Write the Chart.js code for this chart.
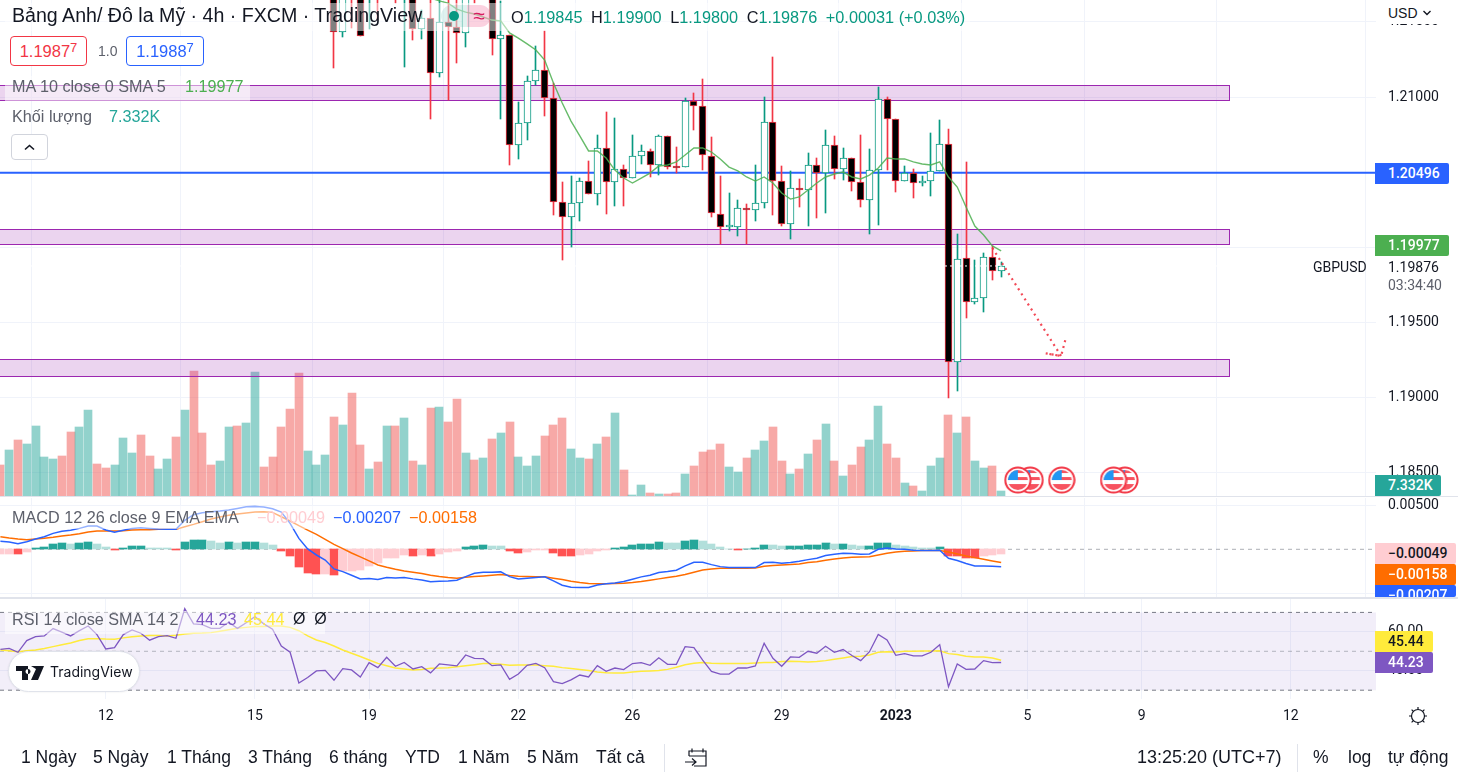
<!DOCTYPE html>
<html lang="vi">
<head>
<meta charset="utf-8">
<title>GBPUSD 4h</title>
<script src="https://cdn.jsdelivr.net/npm/chart.js@4/dist/chart.umd.js"></script>
<style>
html, body { margin: 0; padding: 0; background: #fff; }
body { width: 1458px; height: 777px; overflow: hidden; position: relative; font-family: "Liberation Sans", Arial, sans-serif; color: #131722; }
canvas { position: absolute; left: 0; }
.abs { position: absolute; white-space: nowrap; z-index: 5; }
.row { position: absolute; background: rgba(255,255,255,.5); z-index: 4; }
.leg { font-size: 16.2px; color: #5d606b; }
.up { color: #089981; }
.tag { position: absolute; z-index: 6; left: 1375px; height: 21px; line-height: 21px; border-radius: 0 2px 2px 0; font: 500 14px/21px Roboto, sans-serif; color: #fff; padding-left: 13px; box-sizing: border-box; overflow: hidden; }
.axis { font: 14px/16px Roboto, sans-serif; color: #131722; }
.sep { position: absolute; left: 0; width: 1458px; background: #e0e3eb; z-index: 3; }
.tool { position: absolute; top: 747px; font-size: 17.5px; line-height: 21px; white-space: nowrap; z-index: 5; color: #131722; }
.vbar { position: absolute; width: 1px; top: 744px; height: 28px; background: #e0e3eb; }
.box { position: absolute; top: 36px; height: 30px; box-sizing: border-box; border-radius: 4px; border: 1px solid; font-size: 16.5px; line-height: 29px; text-align: center; z-index: 5; background: #fff; }
.box sup { font-size: 13px; line-height: 0; vertical-align: 5px; }
</style>
</head>
<body>
<canvas id="priceChart" width="1458" height="496" style="top:0"></canvas>
<canvas id="macdChart" width="1458" height="99" style="top:498px"></canvas>
<canvas id="rsiChart" width="1458" height="134" style="top:599px"></canvas>

<div class="sep" style="top:496px;height:1px"></div>
<div class="sep" style="top:597px;height:2px"></div>

<!-- legend block -->
<div class="row" style="left:5px;top:3px;width:965px;height:28px"></div>
<div class="abs" style="left:12px;top:5px;font-size:19.6px;line-height:21px;color:#131722">Bảng Anh/ Đô la Mỹ · 4h · FXCM · TradingView</div>
<div class="abs" style="left:441px;top:5px;width:26px;height:22px;background:rgba(8,153,129,.13);border-radius:11px 0 0 11px"><div style="position:absolute;left:8px;top:6px;width:10px;height:10px;border-radius:5px;background:#089981"></div></div>
<div class="abs" style="left:467px;top:5px;width:24px;height:22px;line-height:21px;background:rgba(233,30,99,.2);border-radius:0 11px 11px 0;color:#d81b60;font-size:21px;text-align:center">≈</div>
<div class="abs" style="left:511px;top:7px;font-size:16.3px;line-height:20px;color:#131722;word-spacing:4px">O<span class="up">1.19845</span> H<span class="up">1.19900</span> L<span class="up">1.19800</span> C<span class="up">1.19876</span> <span class="up" style="word-spacing:0">+0.00031 (+0.03%)</span></div>

<div class="box" style="left:10px;width:77px;border-color:#f23645;color:#f23645">1.1987<sup>7</sup></div>
<div class="abs" style="left:98px;top:43px;font-size:14px;color:#5d606b">1.0</div>
<div class="box" style="left:126px;width:78px;border-color:#2962ff;color:#2962ff">1.1988<sup>7</sup></div>

<div class="row" style="left:5px;top:76px;width:245px;height:25px"></div>
<div class="abs leg" style="left:12px;top:77px">MA 10 close 0 SMA 5</div>
<div class="abs" style="left:185px;top:77px;font-size:16.2px;color:#4caf50">1.19977</div>
<div class="abs leg" style="left:12px;top:107px">Khối lượng</div>
<div class="abs" style="left:109px;top:107px;font-size:16.2px;color:#26a69a">7.332K</div>
<div class="abs" style="left:11px;top:134px;width:37px;height:26px;box-sizing:border-box;border:1px solid #d1d4dc;border-radius:4px;background:#fff">
  <svg width="35" height="24" style="display:block"><path d="M13 14.5l4.5-4 4.5 4" fill="none" stroke="#131722" stroke-width="1.6"/></svg>
</div>

<div class="row" style="left:5px;top:506px;width:475px;height:23px"></div>
<div class="abs leg" style="left:12px;top:508px">MACD 12 26 close 9 EMA EMA</div>
<div class="abs" style="left:257px;top:508px;font-size:16.2px;color:#ffcdd2">−0.00049</div>
<div class="abs" style="left:333px;top:508px;font-size:16.2px;color:#2962ff">−0.00207</div>
<div class="abs" style="left:409px;top:508px;font-size:16.2px;color:#ff6d00">−0.00158</div>

<div class="row" style="left:5px;top:611px;width:320px;height:23px"></div>
<div class="abs leg" style="left:12px;top:610px">RSI 14 close SMA 14 2</div>
<div class="abs" style="left:196px;top:610px;font-size:16.2px;color:#7e57c2">44.23</div>
<div class="abs" style="left:244px;top:610px;font-size:16.2px;color:#ffeb3b">45.44</div>
<div class="abs" style="left:293px;top:610px;font-size:16px;color:#131722">Ø&nbsp;&nbsp;Ø</div>

<!-- watermark -->
<div class="abs" style="left:8px;top:651px;width:132px;height:41px;box-sizing:border-box;border:1px solid #e0e3eb;border-radius:21px;background:#fff;box-shadow:0 0 2px rgba(0,0,0,.1)">
  <svg width="28" height="14" style="position:absolute;left:7px;top:14px"><path d="M0 0h12v14H6V5H0zM15 0h13l-6 14h-7l5-11z M12 3a2.5 2.5 0 1 0 0.01 0" fill="#131722"/></svg>
  <span style="position:absolute;left:41px;top:12px;font:14px/16px Inter,sans-serif;color:#131722">TradingView</span>
</div>

<!-- right price axis overlay -->
<div class="abs" style="left:1376px;top:0;width:82px;height:24px;background:#fff"></div>
<div class="abs" style="left:1388px;top:4px;font-size:14px;line-height:18px">USD</div>
<svg class="abs" style="left:1422px;top:9px" width="10" height="8"><path d="M1.5 2l3.5 3.5L8.500 2" fill="none" stroke="#131722" stroke-width="1.4"/></svg>
<div class="tag" style="top:163px;width:74px;background:#2962ff">1.20496</div>
<div class="tag" style="top:235px;width:74px;background:#4caf50">1.19977</div>
<div class="abs axis" style="left:1313px;top:259px">GBPUSD</div>
<div class="abs axis" style="left:1388px;top:259px">1.19876</div>
<div class="abs axis" style="left:1388px;top:277px;color:#5d606b">03:34:40</div>
<div class="tag" style="top:475px;width:66px;background:#26a69a">7.332K</div>
<div class="tag" style="top:543px;width:81px;background:#ffcdd2;color:#131722;padding-left:13px">−0.00049</div>
<div class="tag" style="top:564px;width:81px;background:#ff6d00;padding-left:13px">−0.00158</div>
<div class="tag" style="top:585px;width:81px;height:12px;background:#2962ff;padding-left:13px">−0.00207</div>
<div class="tag" style="top:631px;width:58px;background:#ffeb3b;color:#131722">45.44</div>
<div class="tag" style="top:652px;width:58px;background:#7e57c2">44.23</div>
<svg class="abs" style="left:1408px;top:706px" width="20" height="20"><circle cx="10" cy="10" r="6.500" fill="none" stroke="#131722" stroke-width="1.2"/><path d="M10 1v3M10 16v3M1 10h3M16 10h3M3.600 3.600l2 2M14.400 14.400l2 2M3.600 16.400l2-2M14.400 5.600l2-2" stroke="#131722" stroke-width="1.2"/></svg>

<!-- bottom toolbar -->
<div class="tool" style="left:21px">1 Ngày</div>
<div class="tool" style="left:93px">5 Ngày</div>
<div class="tool" style="left:167px">1 Tháng</div>
<div class="tool" style="left:248px">3 Tháng</div>
<div class="tool" style="left:329px">6 tháng</div>
<div class="tool" style="left:405px">YTD</div>
<div class="tool" style="left:458px">1 Năm</div>
<div class="tool" style="left:527px">5 Năm</div>
<div class="tool" style="left:596px">Tất cả</div>
<div class="vbar" style="left:664px"></div>
<svg class="abs" style="left:684px;top:747px" width="24" height="22"><path d="M5 9V4h17v15H10M5 9h17M8 1.500v4M19 1.500v4M1 15h11M8 11.500l4 3.500-4 3.500" fill="none" stroke="#131722" stroke-width="1.200"/></svg>
<div class="tool" style="left:1137px;font-size:18px">13:25:20 (UTC+7)</div>
<div class="vbar" style="left:1297px"></div>
<div class="tool" style="left:1313px">%</div>
<div class="tool" style="left:1348px">log</div>
<div class="tool" style="left:1388px">tự động</div>

<script>
// Bars are numbered from the left edge of the picture, four hours each
const xMin = -0.046;
const xMax = 156.7;

// Visible candles start at bar 38, the older ones sit above the price range
const firstCandle = 38;
const candleOpen = [
    1.2185, 1.21434, 1.2180, 1.2190, 1.2170, 1.2190, 1.2170, 1.2180, 1.2170, 1.2190,
    1.21450, 1.21524, 1.21158, 1.21497, 1.21464, 1.21424, 1.2180, 1.2170, 1.2180, 1.21384,
    1.21410, 1.20679, 1.20825, 1.21104, 1.21178, 1.20991, 1.20304, 1.20204, 1.20293, 1.20439,
    1.20353, 1.20659, 1.20433, 1.20519, 1.20459, 1.20606, 1.20639, 1.20550, 1.20739, 1.20534,
    1.20532, 1.20971, 1.20942, 1.20610, 1.20224, 1.20133, 1.20133, 1.20260, 1.20246, 1.20293,
    1.20832, 1.20439, 1.20153, 1.20393, 1.20379, 1.20546, 1.20492, 1.20679, 1.20523, 1.20592,
    1.20433, 1.20313, 1.20512, 1.20985, 1.20852, 1.20439, 1.20492, 1.20426, 1.20439, 1.20506,
    1.20685, 1.19235, 1.19927, 1.19638, 1.19661, 1.19934, 1.19845
];
const candleHigh = [
    1.2190, 1.2180, 1.2185, 1.2195, 1.2200, 1.2195, 1.2185, 1.2190, 1.2185, 1.2195,
    1.21579, 1.2170, 1.2170, 1.2165, 1.2165, 1.2175, 1.2190, 1.2190, 1.2185, 1.21639,
    1.21410, 1.20969, 1.21140, 1.21339, 1.21441, 1.21095, 1.20435, 1.20475, 1.20459, 1.20574,
    1.20747, 1.20900, 1.20860, 1.20548, 1.20747, 1.20681, 1.20654, 1.20747, 1.20739, 1.20665,
    1.20991, 1.21029, 1.21120, 1.20732, 1.20475, 1.20359, 1.20315, 1.20288, 1.20548, 1.20998,
    1.21266, 1.20541, 1.20508, 1.20455, 1.20625, 1.20592, 1.20780, 1.20741, 1.20661, 1.20592,
    1.20747, 1.20654, 1.21065, 1.20998, 1.20852, 1.20541, 1.20521, 1.20475, 1.20761, 1.20847,
    1.20787, 1.20089, 1.20568, 1.19916, 1.19960, 1.20009, 1.19900
];
const candleLow = [
    1.21195, 1.21401, 1.21459, 1.21406, 1.21452, 1.21512, 1.2165, 1.21625, 1.21202, 1.21379,
    1.21388, 1.20852, 1.21135, 1.20980, 1.21224, 1.21335, 1.21625, 1.2165, 1.21279, 1.20856,
    1.20548, 1.20590, 1.20714, 1.21080, 1.20874, 1.20215, 1.19916, 1.20004, 1.20177, 1.20353,
    1.20282, 1.20222, 1.20275, 1.20275, 1.20459, 1.20554, 1.20470, 1.20481, 1.20521, 1.20492,
    1.20532, 1.20780, 1.20514, 1.20204, 1.20022, 1.20111, 1.20077, 1.20020, 1.20177, 1.20264,
    1.20215, 1.20144, 1.20055, 1.20270, 1.20142, 1.20195, 1.20230, 1.20455, 1.20448, 1.20377,
    1.20270, 1.20089, 1.20149, 1.20514, 1.20368, 1.20439, 1.20328, 1.20408, 1.20342, 1.20506,
    1.19000, 1.19046, 1.19530, 1.19625, 1.19572, 1.19783, 1.19800
];
const candleClose = [
    1.21434, 1.2175, 1.2168, 1.21406, 1.2190, 1.2170, 1.2180, 1.2170, 1.2180, 1.21450,
    1.21524, 1.21158, 1.21497, 1.21464, 1.21424, 1.2168, 1.2170, 1.2180, 1.21384, 1.21410,
    1.20679, 1.20825, 1.21104, 1.21178, 1.20991, 1.20304, 1.20204, 1.20293, 1.20439, 1.20353,
    1.20659, 1.20433, 1.20519, 1.20459, 1.20606, 1.20639, 1.20550, 1.20739, 1.20532, 1.20530,
    1.20971, 1.20942, 1.20612, 1.20226, 1.20133, 1.20136, 1.20260, 1.20246, 1.20293, 1.20832,
    1.20439, 1.20153, 1.20393, 1.20379, 1.20546, 1.20492, 1.20679, 1.20523, 1.20592, 1.20433,
    1.20313, 1.20512, 1.20985, 1.20852, 1.20439, 1.20492, 1.20426, 1.20439, 1.20506, 1.20685,
    1.19235, 1.19920, 1.19638, 1.19661, 1.19934, 1.19845, 1.19876
];

// MA 10 close, first visible at bar 49
const firstMa = 49;
const maValues = [
    1.21659, 1.21639, 1.21625, 1.21585, 1.21565, 1.21552, 1.21532, 1.21512, 1.21506, 1.21426,
    1.21392, 1.21353, 1.21313, 1.21246, 1.21093, 1.20960, 1.20840, 1.20741, 1.20641, 1.20641,
    1.20594, 1.20514, 1.20461, 1.20428, 1.20461, 1.20494, 1.20541, 1.20548, 1.20568, 1.20614,
    1.20661, 1.20661, 1.20634, 1.20588, 1.20534, 1.20508, 1.20468, 1.20441, 1.20468, 1.20428,
    1.20361, 1.20321, 1.20335, 1.20381, 1.20428, 1.20468, 1.20488, 1.20501, 1.20468, 1.20455,
    1.20481, 1.20528, 1.20594, 1.20588, 1.20588, 1.20568, 1.20554, 1.20548, 1.20568, 1.20468,
    1.20401, 1.20268, 1.20142, 1.20082, 1.20009, 1.19977
];

// Volume in thousands, 1 = bar closed up
const volumes = [
    46.5, 69, 84, 78, 105, 58.5, 55.5, 60, 96, 103.5,
    129, 48, 42, 46.5, 87, 64.5, 91.5, 60, 40.5, 55.5,
    88.5, 129, 187.5, 94.5, 46.5, 52.5, 103.5, 105, 109.5, 186,
    43.5, 58.5, 103.5, 130.5, 184.5, 67.5, 46.5, 61.5, 118.5, 106.5,
    154.5, 76.5, 40.5, 51, 105, 105, 117, 52.5, 46.5, 132,
    133.5, 111, 145.5, 64.5, 54, 57, 85.5, 94.5, 111, 58.5,
    45, 60, 90, 106.5, 117, 70.5, 57, 55.5, 78, 88.5,
    124.5, 39, 1.5, 16.5, 4.5, 3, 3, 4.5, 33, 45,
    66, 69, 78, 43.5, 36, 57, 69, 82.5, 103.5, 52.5,
    33, 40.5, 63, 84, 108, 52.5, 30, 46.5, 73.5, 84,
    135, 78, 57, 19.5, 15, 7.5, 45, 57, 121.5, 94.5,
    118.5, 52.5, 42, 45, 7.332
];
const volumeUp = [
    0, 1, 0, 1, 1, 1, 1, 0, 0, 1,
    1, 0, 0, 1, 1, 1, 0, 0, 1, 1,
    0, 1, 0, 0, 0, 1, 1, 0, 1, 1,
    0, 0, 0, 0, 0, 1, 1, 1, 0, 1,
    0, 0, 1, 0, 1, 0, 1, 0, 1, 0,
    1, 0, 0, 1, 0, 1, 0, 1, 0, 1,
    1, 1, 0, 0, 0, 1, 1, 0, 1, 0,
    1, 0, 1, 1, 0, 1, 0, 0, 1, 0,
    0, 0, 0, 1, 1, 0, 1, 1, 0, 0,
    1, 0, 1, 0, 1, 0, 1, 0, 0, 1,
    1, 0, 0, 1, 0, 1, 1, 1, 0, 1,
    0, 1, 1, 0, 1
];

const macdHist = [
    -0.00054, -0.00054, -0.00056, -0.00031, 0.00015, 0.00026, 0.00061, 0.00072, 0.00061, 0.00072,
    0.00083, 0.00061, 0.00026, -0.00008, 0.00015, 0.00038, 0.00038, 0.00015, 0.00014, 0.00013,
    -0.00008, 0.00083, 0.00106, 0.00106, 0.00095, 0.00072, 0.00083, 0.00072, 0.00083, 0.00083,
    0.00072, 0.00049, -0.00019, -0.00077, -0.00202, -0.00271, -0.00282, -0.00282, -0.00294, -0.00248,
    -0.00248, -0.00237, -0.00191, -0.00157, -0.00099, -0.00099, -0.00065, -0.00077, -0.00065, -0.00077,
    -0.00054, -0.00031, -0.00019, 0.00026, 0.00038, 0.00049, 0.00038, 0.00037, -0.00019, -0.00042,
    -0.00031, -0.00008, -0.00008, -0.00042, -0.00077, -0.00078, -0.00065, -0.00054, -0.00019, -0.00008,
    0.00015, 0.00026, 0.00049, 0.00061, 0.00061, 0.00083, 0.00072, 0.00071, 0.00095, 0.00106,
    0.00095, 0.00061, 0.00026, 0.00003, -0.00003, 0.00003, 0.00015, 0.00049, 0.00048, 0.00038,
    0.00038, 0.00038, 0.00049, 0.00049, 0.00072, 0.00061, 0.00061, 0.00049, 0.00038, 0.00038,
    0.00072, 0.00072, 0.00049, 0.00038, 0.00026, 0.00015, 0.00014, 0.00026, -0.00077, -0.00078,
    -0.00099, -0.00101, -0.00077, -0.00065, -0.00049
];
const macdLine = [
    0.00091, 0.00084, 0.00065, 0.00087, 0.00118, 0.00144, 0.00182, 0.00205, 0.00217, 0.00239,
    0.00266, 0.00266, 0.00220, 0.00194, 0.00217, 0.00239, 0.00247, 0.00239, 0.00232, 0.00228,
    0.00228, 0.00331, 0.00395, 0.00418, 0.00429, 0.00437, 0.00448, 0.00467, 0.00486, 0.00490,
    0.00483, 0.00464, 0.00426, 0.00296, 0.00125, 0.00004, -0.00065, -0.00122, -0.00224, -0.00255,
    -0.00296, -0.00338, -0.00334, -0.00346, -0.00323, -0.00327, -0.00323, -0.00338, -0.00350, -0.00372,
    -0.00365, -0.00361, -0.00353, -0.00312, -0.00274, -0.00262, -0.00262, -0.00258, -0.00312, -0.00338,
    -0.00331, -0.00323, -0.00315, -0.00361, -0.00410, -0.00433, -0.00437, -0.00437, -0.00407, -0.00395,
    -0.00384, -0.00369, -0.00342, -0.00315, -0.00296, -0.00266, -0.00255, -0.00239, -0.00190, -0.00148,
    -0.00148, -0.00175, -0.00198, -0.00209, -0.00209, -0.00209, -0.00209, -0.00152, -0.00148, -0.00160,
    -0.00152, -0.00137, -0.00118, -0.00103, -0.00072, -0.00057, -0.00046, -0.00049, -0.00057, -0.00053,
    0, 0.00015, 0.00004, 0, -0.00011, -0.00015, -0.00015, -0.00011, -0.00103, -0.00129,
    -0.00163, -0.00190, -0.00190, -0.00194, -0.00198
];
const macdSignal = [
    0.00144, 0.00129, 0.00118, 0.00110, 0.00118, 0.00125, 0.00137, 0.00152, 0.00163, 0.00179,
    0.00198, 0.00209, 0.00209, 0.00209, 0.00213, 0.00220, 0.00224, 0.00224, 0.00228, 0.00228,
    0.00228, 0.00258, 0.00285, 0.00315, 0.00346, 0.00369, 0.00388, 0.00403, 0.00414, 0.00426,
    0.00429, 0.00422, 0.00372, 0.00323, 0.00270, 0.00220, 0.00171, 0.00114, 0.00057, 0.00008,
    -0.00042, -0.00087, -0.00133, -0.00179, -0.00205, -0.00228, -0.00247, -0.00262, -0.00277, -0.00296,
    -0.00312, -0.00323, -0.00331, -0.00319, -0.00312, -0.00304, -0.00296, -0.00289, -0.00300, -0.00308,
    -0.00312, -0.00315, -0.00315, -0.00331, -0.00346, -0.00365, -0.00380, -0.00391, -0.00395, -0.00395,
    -0.00391, -0.00388, -0.00380, -0.00369, -0.00353, -0.00338, -0.00323, -0.00308, -0.00289, -0.00262,
    -0.00236, -0.00224, -0.00217, -0.00217, -0.00217, -0.00217, -0.00213, -0.00194, -0.00186, -0.00179,
    -0.00175, -0.00167, -0.00152, -0.00141, -0.00125, -0.00110, -0.00099, -0.00091, -0.00087, -0.00084,
    -0.00065, -0.00046, -0.00030, -0.00023, -0.00019, -0.00015, -0.00015, -0.00015, -0.00030, -0.00053,
    -0.00076, -0.00095, -0.00114, -0.00133, -0.00152
];

const rsiValues = [
    51.0, 51.5, 49.5, 55.5, 57.5, 57.9, 61.7, 59.9, 57.9, 60.6,
    63.0, 58.6, 51.2, 51.9, 58.6, 61.0, 59.3, 55.7, 57.5, 58.1,
    56.7, 71.9, 64.1, 63.7, 61.8, 61.8, 64.9, 61.8, 64.7, 67.8,
    64.1, 61.3, 52.7, 49.5, 33.7, 36.5, 39.9, 40.2, 35.1, 41.1,
    40.4, 36.8, 44.2, 41.6, 46.9, 42.3, 44.3, 40.9, 42.1, 38.9,
    43.5, 43.0, 42.5, 48.1, 46.4, 46.2, 42.6, 43.0, 35.6, 38.3,
    42.8, 43.8, 41.6, 34.4, 33.4, 35.3, 37.8, 36.8, 42.6, 39.7,
    41.4, 40.6, 43.7, 44.2, 42.8, 46.7, 43.3, 43.3, 52.4, 51.9,
    45.5, 39.7, 38.3, 38.3, 41.4, 41.4, 42.5, 54.1, 46.4, 42.3,
    47.1, 46.9, 50.0, 49.0, 52.6, 49.5, 50.9, 47.8, 45.2, 49.8,
    58.7, 55.8, 47.9, 48.8, 47.6, 47.6, 49.5, 53.4, 31.8, 43.5,
    40.7, 40.9, 45.2, 44.2, 44.23
];
const rsiSma = [
    50.7, 50.3, 49.8, 50.3, 50.7, 51.4, 52.4, 53.4, 54.3, 55.5,
    56.5, 56.5, 56.3, 56.2, 56.9, 57.5, 57.9, 58.1, 58.1, 57.9,
    58.2, 58.9, 59.3, 59.4, 59.6, 60.3, 61.1, 61.8, 62.3, 62.7,
    62.7, 63.0, 63.0, 62.3, 60.6, 57.9, 55.8, 54.5, 52.7, 50.7,
    49.0, 47.3, 45.5, 43.8, 42.6, 41.4, 40.9, 40.4, 40.7, 41.3,
    41.4, 41.6, 42.1, 42.6, 43.1, 43.7, 43.7, 43.3, 42.8, 43.0,
    43.0, 43.0, 42.6, 42.3, 41.6, 41.1, 40.6, 40.1, 39.4, 39.0,
    38.9, 38.9, 39.4, 39.7, 39.9, 40.1, 40.7, 41.8, 43.1, 43.8,
    44.2, 43.8, 43.7, 43.7, 43.7, 43.7, 44.0, 44.3, 44.3, 44.7,
    44.9, 44.7, 44.5, 44.7, 45.2, 45.9, 46.6, 47.3, 47.4, 48.1,
    49.5, 49.8, 49.7, 50.0, 50.0, 50.2, 50.2, 50.3, 48.8, 48.3,
    47.4, 47.1, 47.1, 46.6, 45.44
];

// Drawn support and resistance bands [top, bottom], they end at bar 139.9
const zones = [[1.21080, 1.20977], [1.20125, 1.20019], [1.19254, 1.19147]];
const zoneEnd = 139.9;
const hLinePrice = 1.20496;
const lastPrice = 1.19876;

// Dotted arrow drawing
const arrowX = [113, 120.83, 119.06, 120.83, 121.3];
const arrowY = [1.19996, 1.19277, 1.19295, 1.19277, 1.19382];

// Economic event flags
const eventBars = [117.3, 115.9, 120.9, 128.1, 126.8];
const eventPrice = 1.18452;

// Time axis
const timeTicks = [12, 29, 42, 59, 72, 89, 102, 117, 130, 147];
const timeLabels = ['12', '15', '19', '22', '26', '29', '2023', '5', '9', '12'];

const priceTicks = [1.215, 1.21, 1.205, 1.2, 1.195, 1.19, 1.185];
const macdTicks = [0.005, -0.005];
const rsiGrid = [60, 40];

// Colors
const colors = {
    up: '#089981',
    down: '#f23645',
    volUp: 'rgba(38, 166, 154, 0.5)',
    volDown: 'rgba(239, 83, 80, 0.5)',
    grid: '#f0f3fa',
    zoneFill: 'rgba(156, 39, 176, 0.2)',
    zoneLine: '#9c27b0',
    blue: '#2962ff',
    orange: '#ff6d00',
    purple: '#7e57c2',
    yellow: '#ffeb3b',
    green: 'rgba(76, 175, 80, 0.85)',
    dash: '#787b86'
};
const axisFont = { family: 'Roboto, sans-serif', size: 14 };

Chart.defaults.animation = false;
Chart.defaults.responsive = false;
Chart.defaults.plugins.legend.display = false;
Chart.defaults.plugins.tooltip.enabled = false;

// Bars land on whole pixels so wicks and body borders stay crisp
const snapBars = {
    id: 'snapBars',
    beforeDatasetDraw(chart, args) {
        if (args.meta.type !== 'bar') return;
        args.meta.data.forEach(bar => {
            bar.x = bar.width % 2 ? Math.floor(bar.x) + 0.5 : Math.round(bar.x);
            bar.y = Math.round(bar.y);
            bar.base = Math.round(bar.base);
        });
    }
};

// Purple bands go between the volume and the candles
const zonePlugin = {
    id: 'zonePlugin',
    afterDatasetDraw(chart, args) {
        if (args.index !== 0) return;
        const { ctx, scales } = chart;
        const right = Math.round(scales.x.getPixelForValue(zoneEnd)) + 0.5;
        ctx.save();
        zones.forEach(zone => {
            const top = Math.round(scales.y.getPixelForValue(zone[0])) + 0.5;
            const bottom = Math.round(scales.y.getPixelForValue(zone[1])) + 0.5;
            ctx.fillStyle = colors.zoneFill;
            ctx.fillRect(-2, top, right + 2, bottom - top);
            ctx.strokeStyle = colors.zoneLine;
            ctx.lineWidth = 1;
            ctx.strokeRect(-2, top, right + 2, bottom - top);
        });
        ctx.restore();
    }
};

function makeFlagIcon() {
    const icon = document.createElement('canvas');
    icon.width = 28;
    icon.height = 28;
    const c = icon.getContext('2d');
    c.beginPath();
    c.arc(14, 14, 13, 0, Math.PI * 2);
    c.fillStyle = '#fff';
    c.fill();
    c.save();
    c.beginPath();
    c.arc(14, 14, 10, 0, Math.PI * 2);
    c.clip();
    c.fillStyle = '#f7525f';
    c.fillRect(0, 4, 28, 3);
    c.fillRect(0, 11, 28, 3);
    c.fillRect(0, 18, 28, 6);
    c.fillStyle = '#2196f3';
    c.fillRect(3, 4, 11, 10);
    c.restore();
    c.beginPath();
    c.arc(14, 14, 12.6, 0, Math.PI * 2);
    c.lineWidth = 2;
    c.strokeStyle = '#f23645';
    c.stroke();
    return icon;
}

function fixedTicks(values) {
    return scale => { scale.ticks = values.map(value => ({ value })); };
}

// The panels sit flush against each other, so no scale may reserve room for its labels
function noPadding(axis) {
    axis.paddingTop = 0;
    axis.paddingBottom = 0;
    axis.paddingLeft = 0;
    axis.paddingRight = 0;
}

// x scale shared by all three panels, labels only on the last one
function xScale(showLabels) {
    return {
        type: 'linear',
        min: xMin,
        max: xMax,
        offset: false,
        afterBuildTicks: fixedTicks(timeTicks),
        afterFit(axis) {
            axis.height = showLabels ? 34 : 0;
            noPadding(axis);
        },
        border: { display: false },
        grid: { color: colors.grid, drawTicks: false },
        ticks: {
            display: showLabels,
            autoSkip: false,
            maxRotation: 0,
            padding: 9,
            color: '#131722',
            font: ctx => ({ family: axisFont.family, size: 14, weight: timeLabels[ctx.index] === '2023' ? 'bold' : 'normal' }),
            callback: (value, index) => timeLabels[index]
        }
    };
}

function yScale(min, max, tickValues, format) {
    return {
        position: 'right',
        min,
        max,
        afterBuildTicks: fixedTicks(tickValues),
        afterFit(axis) {
            axis.width = 82;
            noPadding(axis);
        },
        border: { display: false },
        grid: { color: colors.grid, drawTicks: false },
        ticks: { autoSkip: false, padding: 12, color: '#131722', font: axisFont, callback: format }
    };
}

// Straight line across the whole panel
function levelLine(value, color, extra) {
    return Object.assign({
        type: 'line',
        data: [{ x: xMin, y: value }, { x: xMax, y: value }],
        borderColor: color,
        borderWidth: 1,
        pointRadius: 0
    }, extra);
}

const candleBars = candleOpen.map((open, i) => i + firstCandle);
const isUp = candleBars.map((bar, i) => candleClose[i] >= candleOpen[i]);

new Chart(document.getElementById('priceChart').getContext('2d'), {
    type: 'bar',
    data: {
        datasets: [
            {
                yAxisID: 'yVol',
                order: 10,
                data: volumes.map((v, i) => ({ x: i, y: v })),
                backgroundColor: volumeUp.map(u => (u ? colors.volUp : colors.volDown)),
                barThickness: 8,
                grouped: false
            },
            levelLine(hLinePrice, colors.blue, { order: 8, borderWidth: 2 }),
            {
                order: 6,
                data: candleBars.map((bar, i) => ({ x: bar, y: [candleLow[i], candleHigh[i]] })),
                backgroundColor: isUp.map(u => (u ? colors.up : colors.down)),
                barThickness: 1,
                grouped: false
            },
            {
                order: 5,
                data: candleBars.map((bar, i) => ({ x: bar, y: [candleOpen[i], candleClose[i]] })),
                backgroundColor: isUp.map(u => (u ? '#ffffff' : '#000000')),
                borderColor: isUp.map(u => (u ? colors.up : colors.down)),
                borderWidth: 1,
                borderSkipped: false,
                barThickness: 7,
                minBarLength: 2,
                grouped: false
            },
            {
                type: 'line',
                order: 4,
                data: maValues.map((v, i) => ({ x: i + firstMa, y: v })),
                borderColor: colors.green,
                borderWidth: 1.4,
                pointRadius: 0
            },
            levelLine(lastPrice, '#ffffff', { order: 3, borderDash: [2, 3] }),
            {
                type: 'line',
                order: 2,
                data: arrowX.map((x, i) => ({ x, y: arrowY[i] })),
                borderColor: 'rgba(242, 54, 69, 0.9)',
                borderWidth: 2.2,
                borderDash: [2, 4],
                pointRadius: 0
            },
            {
                type: 'line',
                order: 1,
                showLine: false,
                data: eventBars.map(x => ({ x, y: eventPrice })),
                pointStyle: makeFlagIcon(),
                pointRadius: 14
            }
        ]
    },
    options: {
        layout: { padding: 0, autoPadding: false },
        scales: {
            x: xScale(false),
            y: yScale(1.183458, 1.216453, priceTicks, v => v.toFixed(5)),
            yVol: { display: false, min: 0, max: 744 }
        }
    },
    plugins: [snapBars, zonePlugin]
});

new Chart(document.getElementById('macdChart').getContext('2d'), {
    type: 'bar',
    data: {
        datasets: [
            levelLine(0, 'rgba(120, 123, 134, 0.6)', { order: 5, borderDash: [4, 4] }),
            {
                order: 4,
                data: macdHist.map((v, i) => ({ x: i, y: v })),
                // strong color while the histogram grows away from zero, pale when it shrinks
                backgroundColor: macdHist.map((v, i) => {
                    const prev = i ? macdHist[i - 1] : v;
                    if (v >= 0) return v >= prev ? '#26a69a' : '#b2dfdb';
                    return v < prev ? '#ff5252' : '#ffcdd2';
                }),
                barThickness: 8,
                grouped: false
            },
            {
                type: 'line',
                order: 3,
                data: macdSignal.map((v, i) => ({ x: i, y: v })),
                borderColor: colors.orange,
                borderWidth: 1.5,
                pointRadius: 0
            },
            {
                type: 'line',
                order: 2,
                data: macdLine.map((v, i) => ({ x: i, y: v })),
                borderColor: colors.blue,
                borderWidth: 1.5,
                pointRadius: 0
            }
        ]
    },
    options: {
        layout: { padding: 0, autoPadding: false },
        scales: {
            x: xScale(false),
            y: yScale(-0.005451, 0.005863, macdTicks, v => (v > 0 ? v.toFixed(5) : '−' + Math.abs(v).toFixed(5)))
        }
    },
    plugins: [snapBars]
});

new Chart(document.getElementById('rsiChart').getContext('2d'), {
    type: 'line',
    data: {
        datasets: [
            levelLine(30, colors.dash, { order: 6, borderDash: [4, 4] }),
            levelLine(70, colors.dash, {
                order: 6,
                borderDash: [4, 4],
                fill: { target: 0, above: 'rgba(126, 87, 194, 0.1)' }
            }),
            levelLine(50, 'rgba(120, 123, 134, 0.5)', { order: 5, borderDash: [4, 4] }),
            {
                order: 4,
                data: rsiSma.map((v, i) => ({ x: i, y: v })),
                borderColor: colors.yellow,
                borderWidth: 1.5,
                pointRadius: 0
            },
            {
                order: 3,
                data: rsiValues.map((v, i) => ({ x: i, y: v })),
                borderColor: colors.purple,
                borderWidth: 1.3,
                pointRadius: 0
            }
        ]
    },
    options: {
        layout: { padding: 0, autoPadding: false },
        scales: {
            x: xScale(true),
            y: yScale(25.47, 76.89, rsiGrid, v => v.toFixed(2))
        }
    }
});
</script>
</body>
</html>
